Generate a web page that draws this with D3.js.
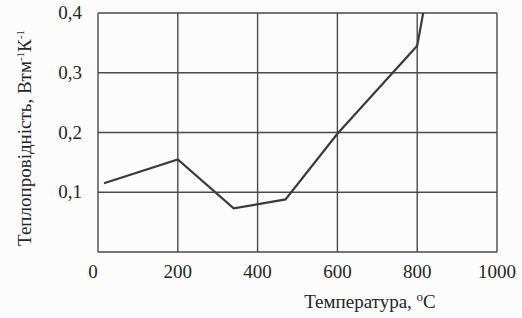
<!DOCTYPE html>
<html>
<head>
<meta charset="utf-8">
<script src="https://cdnjs.cloudflare.com/ajax/libs/d3/7.8.5/d3.min.js"></script>
<style>
  body { margin: 0; background: #fcfcfc; }
  svg text { font-family: "Liberation Serif", "DejaVu Serif", serif; fill: #262626; }
</style>
</head>
<body>
<div id="chart"></div>
<script>
// data
const temps = [15, 200, 340, 470, 600, 800, 815];
const conductivity = [0.115, 0.155, 0.073, 0.088, 0.198, 0.345, 0.40];
const xTicks = [0, 200, 400, 600, 800, 1000];
const yTicks = [0.1, 0.2, 0.3, 0.4];

const width = 522, height = 318;
const margin = { top: 13, right: 25, bottom: 66, left: 98 };

const svg = d3.select("#chart").append("svg")
    .attr("width", width)
    .attr("height", height);

const x = d3.scaleLinear().domain([0, 1000]).range([margin.left, width - margin.right]);
const y = d3.scaleLinear().domain([0, 0.4]).range([height - margin.bottom, margin.top]);

// grid lines
svg.append("g")
    .selectAll("line")
    .data(xTicks)
    .enter()
    .append("line")
    .attr("x1", d => x(d)).attr("x2", d => x(d))
    .attr("y1", y(0)).attr("y2", y(0.4))
    .attr("stroke", "#4a4a4a")
    .attr("stroke-width", 1.4);

svg.append("g")
    .selectAll("line")
    .data([0].concat(yTicks))
    .enter()
    .append("line")
    .attr("x1", x(0)).attr("x2", x(1000))
    .attr("y1", d => y(d)).attr("y2", d => y(d))
    .attr("stroke", "#4a4a4a")
    .attr("stroke-width", 1.4);

// tick labels
svg.append("g")
    .selectAll("text")
    .data(xTicks)
    .enter()
    .append("text")
    .attr("x", d => d === 0 ? x(d) - 5 : x(d))
    .attr("y", y(0) + 26)
    .attr("text-anchor", "middle")
    .attr("font-size", "19px")
    .text(d => d);

svg.append("g")
    .selectAll("text")
    .data(yTicks)
    .enter()
    .append("text")
    .attr("x", 82)
    .attr("y", d => y(d) + 6)
    .attr("text-anchor", "end")
    .attr("font-size", "19px")
    .text(d => d3.format(".1f")(d).replace(".", ","));

// data line
const line = d3.line()
    .x((d, i) => x(temps[i]))
    .y(d => y(d));

svg.append("path")
    .datum(conductivity)
    .attr("d", line)
    .attr("fill", "none")
    .attr("stroke", "#3a3a3a")
    .attr("stroke-width", 2.2);

// axis titles
const xt = svg.append("text")
    .attr("x", 370)
    .attr("y", 308)
    .attr("text-anchor", "middle")
    .attr("font-size", "19px");
xt.append("tspan").text("Температура, ");
xt.append("tspan").attr("dy", -7).attr("font-size", "13px").text("o");
xt.append("tspan").attr("dy", 7).text("C");

const yt = svg.append("text")
    .attr("transform", "translate(31," + 138 + ") rotate(-90)")
    .attr("text-anchor", "middle")
    .attr("font-size", "19px");
yt.append("tspan").text("Теплопровідність, Втм");
yt.append("tspan").attr("dy", -7).attr("font-size", "11px").text("-1");
yt.append("tspan").attr("dy", 7).text("К");
yt.append("tspan").attr("dy", -7).attr("font-size", "11px").text("-1");
</script>
</body>
</html>
